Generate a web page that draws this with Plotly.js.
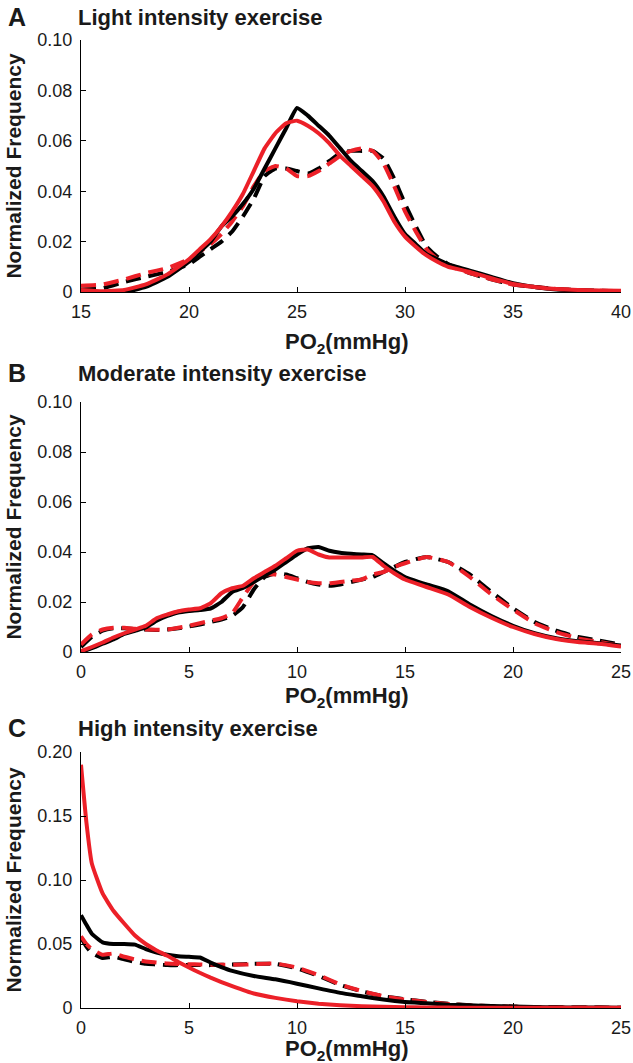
<!DOCTYPE html>
<html>
<head>
<meta charset="utf-8">
<script src="https://cdn.plot.ly/plotly-3.0.1.min.js"></script>
<style>html,body{margin:0;padding:0;background:#fff;}#chart{width:633px;height:1063px;}</style>
</head>
<body>
<div id="chart"></div>
<script>
// ---------- Panel A: Light intensity exercise ----------
var xA = [15,16,17,18,19,20,20.5,21,21.5,22,22.5,23,23.5,24,24.5,25,25.5,26,26.5,27,27.5,28,28.5,29,29.5,30,30.5,31,31.5,32,33,34,35,36,37,38,39,40];
var A_blackSolid = [0,0,0,0.002,0.006,0.012,0.016,0.020,0.026,0.030,0.035,0.041,0.049,0.057,0.065,0.073,0.070,0.066,0.062,0.057,0.052,0.048,0.044,0.038,0.030,0.023,0.019,0.015,0.013,0.011,0.0085,0.006,0.0035,0.002,0.001,0.0006,0.0004,0.0003];
var A_redSolid = [0.0008,0.0003,0.0008,0.003,0.007,0.013,0.017,0.021,0.026,0.032,0.039,0.048,0.057,0.063,0.067,0.068,0.066,0.063,0.059,0.054,0.050,0.046,0.042,0.036,0.028,0.022,0.018,0.0145,0.012,0.010,0.008,0.0055,0.0032,0.002,0.0012,0.0008,0.0006,0.0005];
var A_blackDashed = [0.001,0.0015,0.004,0.006,0.008,0.011,0.014,0.017,0.020,0.024,0.030,0.037,0.046,0.049,0.049,0.048,0.047,0.049,0.052,0.055,0.056,0.056,0.056,0.053,0.045,0.035,0.026,0.018,0.014,0.011,0.0075,0.005,0.003,0.002,0.0012,0.0008,0.0005,0.0003];
var A_redDashed = [0.0025,0.003,0.005,0.0075,0.0095,0.013,0.016,0.019,0.023,0.028,0.034,0.042,0.048,0.050,0.049,0.046,0.046,0.048,0.051,0.054,0.056,0.057,0.056,0.051,0.042,0.032,0.024,0.017,0.013,0.0105,0.0075,0.005,0.003,0.002,0.0012,0.0008,0.0005,0.0003];

// ---------- Panel B: Moderate intensity exercise ----------
var xB = [0,0.5,1,1.5,2,2.5,3,3.5,4,4.5,5,5.5,6,6.5,7,7.5,8,8.5,9,9.5,10,10.5,11,11.5,12,12.5,13,13.5,14,14.5,15,16,17,18,19,20,21,22,23,24,25];
var B_blackSolid = [0,0.0015,0.0033,0.005,0.0072,0.0085,0.0098,0.0125,0.0144,0.0158,0.0164,0.0168,0.0174,0.020,0.024,0.0256,0.028,0.0305,0.033,0.036,0.039,0.0415,0.042,0.0405,0.0397,0.0393,0.039,0.0387,0.0355,0.0325,0.030,0.027,0.0243,0.019,0.0144,0.0105,0.0075,0.0055,0.0043,0.0035,0.0026];
var B_redSolid = [0.0003,0.002,0.0038,0.0058,0.0075,0.009,0.0105,0.0135,0.015,0.0163,0.017,0.0175,0.0195,0.0235,0.0255,0.0265,0.0295,0.032,0.0345,0.0375,0.0405,0.041,0.039,0.0378,0.0378,0.0378,0.0378,0.038,0.0345,0.0315,0.029,0.026,0.023,0.018,0.0137,0.0100,0.0072,0.0052,0.0040,0.0033,0.0022];
var B_blackDashed = [0.002,0.006,0.0085,0.0095,0.0095,0.0092,0.009,0.0088,0.009,0.0095,0.0102,0.011,0.012,0.013,0.0145,0.018,0.025,0.030,0.0315,0.031,0.0295,0.028,0.027,0.0265,0.027,0.028,0.029,0.030,0.032,0.034,0.036,0.038,0.036,0.031,0.024,0.0175,0.012,0.0085,0.006,0.0045,0.003];
var B_redDashed = [0.003,0.007,0.009,0.0097,0.0097,0.0093,0.009,0.0089,0.009,0.0097,0.0105,0.0115,0.0125,0.0135,0.0155,0.022,0.028,0.031,0.031,0.030,0.029,0.028,0.0275,0.0275,0.028,0.0285,0.029,0.031,0.032,0.034,0.0355,0.038,0.036,0.030,0.023,0.017,0.0115,0.008,0.0055,0.004,0.0025];

// ---------- Panel C: High intensity exercise ----------
var xC = [0,0.25,0.5,1,1.5,2,2.5,3,3.5,4,4.5,5,5.5,6,6.5,7,8,9,10,11,12,13,14,15,16,17,18,19,20,21,22,23,24,25];
var C_blackSolid = [0.0725,0.065,0.058,0.0513,0.050,0.050,0.0495,0.046,0.0434,0.0416,0.0405,0.040,0.0395,0.0355,0.032,0.029,0.025,0.0224,0.019,0.0153,0.0118,0.0092,0.0066,0.0047,0.0037,0.0026,0.0021,0.0016,0.0012,0.0008,0.0005,0.0004,0.0003,0.0002];
var C_redSolid = [0.19,0.145,0.113,0.0895,0.076,0.066,0.0566,0.050,0.045,0.0408,0.036,0.0316,0.0275,0.0237,0.0203,0.0171,0.0113,0.0079,0.0053,0.0034,0.0022,0.0014,0.0009,0.0006,0.0004,0.0003,0.0002,0.0002,0.0001,0.0001,0.0001,0.0001,0.0001,0.0001];
var C_blackDashed = [0.055,0.048,0.043,0.039,0.040,0.038,0.036,0.0345,0.034,0.0335,0.0335,0.0335,0.0335,0.0335,0.0337,0.034,0.0345,0.0345,0.031,0.025,0.018,0.013,0.0092,0.0068,0.0048,0.0033,0.0021,0.0015,0.001,0.0007,0.0005,0.0004,0.0003,0.0002];
var C_redDashed = [0.056,0.050,0.046,0.0416,0.0426,0.040,0.038,0.0363,0.0355,0.0347,0.0344,0.0342,0.034,0.0337,0.0337,0.0337,0.0342,0.0347,0.0316,0.0258,0.0184,0.0132,0.0092,0.0066,0.0047,0.0032,0.002,0.0014,0.001,0.0007,0.0005,0.0004,0.0003,0.0002];

// ---------- Tick labels ----------
var yTickValsAB = [0,0.02,0.04,0.06,0.08,0.10];
var yTickTextAB = ["0","0.02","0.04","0.06","0.08","0.10"];
var yTickValsC = [0,0.05,0.10,0.15,0.20];
var yTickTextC = ["0","0.05","0.10","0.15","0.20"];
var xTickValsA = [15,20,25,30,35,40];
var xTickValsBC = [0,5,10,15,20,25];

var panelLetters = ["A","B","C"];
var panelTitles = ["Light intensity exercise","Moderate intensity exercise","High intensity exercise"];
var xTitle = "PO<sub>2</sub>(mmHg)";
var yTitle = "Normalized Frequency";

var RED = "rgb(236,32,40)";
var BLACK = "#000000";
var LW = 4;
var DASH = "15px,8px";
var FONT = "Liberation Sans, Arial, Helvetica, sans-serif";

function tr(x, y, color, dashed, ax) {
  return {
    x: x, y: y, type: "scatter", mode: "lines",
    xaxis: "x" + ax, yaxis: "y" + ax,
    line: {color: color, width: LW, dash: dashed ? DASH : "solid", shape: "spline", smoothing: 0.4},
    hoverinfo: "skip", showlegend: false
  };
}

var data = [
  tr(xA, A_blackDashed, BLACK, true, ""),
  tr(xA, A_redDashed, RED, true, ""),
  tr(xA, A_blackSolid, BLACK, false, ""),
  tr(xA, A_redSolid, RED, false, ""),
  tr(xB, B_blackDashed, BLACK, true, "2"),
  tr(xB, B_redDashed, RED, true, "2"),
  tr(xB, B_blackSolid, BLACK, false, "2"),
  tr(xB, B_redSolid, RED, false, "2"),
  tr(xC, C_blackDashed, BLACK, true, "3"),
  tr(xC, C_redDashed, RED, true, "3"),
  tr(xC, C_blackSolid, BLACK, false, "3"),
  tr(xC, C_redSolid, RED, false, "3")
];

var W = 633, H = 1063;
var xDom = [81 / W, 621 / W];
function yDom(topPx, botPx) { return [1 - botPx / H, 1 - topPx / H]; }

function xax(range, vals, anchor) {
  return {
    domain: xDom, range: range, anchor: anchor,
    tickvals: vals, ticktext: vals.map(String),
    ticks: "inside", ticklen: 5, tickwidth: 1, tickcolor: "#000",
    showline: true, linecolor: "#000", linewidth: 1,
    showgrid: false, zeroline: false, fixedrange: true,
    ticklabelstandoff: 3,
    tickfont: {family: FONT, size: 18, color: "#1a1a1a"}
  };
}
function yax(range, vals, text, dom, anchor) {
  return {
    domain: dom, range: range, anchor: anchor,
    tickvals: vals, ticktext: text,
    ticks: "inside", ticklen: 5, tickwidth: 1, tickcolor: "#000",
    showline: true, linecolor: "#000", linewidth: 1,
    showgrid: false, zeroline: false, fixedrange: true,
    ticklabelstandoff: 4,
    tickfont: {family: FONT, size: 18, color: "#1a1a1a"},
    title: {text: yTitle, standoff: 10, font: {family: FONT, size: 21, color: "#1a1a1a", weight: "bold"}}
  };
}

var titleY = [17, 373, 728];
var xTitleY = [343, 697, 1050];
var annotations = [];
for (var i = 0; i < 3; i++) {
  annotations.push({
    xref: "paper", yref: "paper", x: 6 / W, y: 1 - titleY[i] / H,
    xanchor: "left", yanchor: "middle", showarrow: false,
    text: panelLetters[i], font: {family: FONT, size: 25, color: "#1a1a1a", weight: "bold"}
  });
  annotations.push({
    xref: "paper", yref: "paper", x: 76 / W, y: 1 - titleY[i] / H,
    xanchor: "left", yanchor: "middle", showarrow: false,
    text: panelTitles[i], font: {family: FONT, size: 22, color: "#1a1a1a", weight: "bold"}
  });
  annotations.push({
    xref: "paper", yref: "paper", x: 346 / W, y: 1 - xTitleY[i] / H,
    xanchor: "center", yanchor: "middle", showarrow: false,
    text: xTitle, font: {family: FONT, size: 22, color: "#1a1a1a", weight: "bold"}
  });
}

var layout = {
  width: W, height: H,
  margin: {l: 0, r: 0, t: 0, b: 0},
  paper_bgcolor: "#fff", plot_bgcolor: "#fff",
  showlegend: false,
  xaxis: xax([15, 40], xTickValsA, "y"),
  yaxis: yax([0, 0.10], yTickValsAB, yTickTextAB, yDom(40, 292), "x"),
  xaxis2: xax([0, 25], xTickValsBC, "y2"),
  yaxis2: yax([0, 0.10], yTickValsAB, yTickTextAB, yDom(402, 652), "x2"),
  xaxis3: xax([0, 25], xTickValsBC, "y3"),
  yaxis3: yax([0, 0.20], yTickValsC, yTickTextC, yDom(752, 1008), "x3"),
  annotations: annotations
};

Plotly.newPlot("chart", data, layout, {staticPlot: true, displayModeBar: false});
</script>
</body>
</html>
